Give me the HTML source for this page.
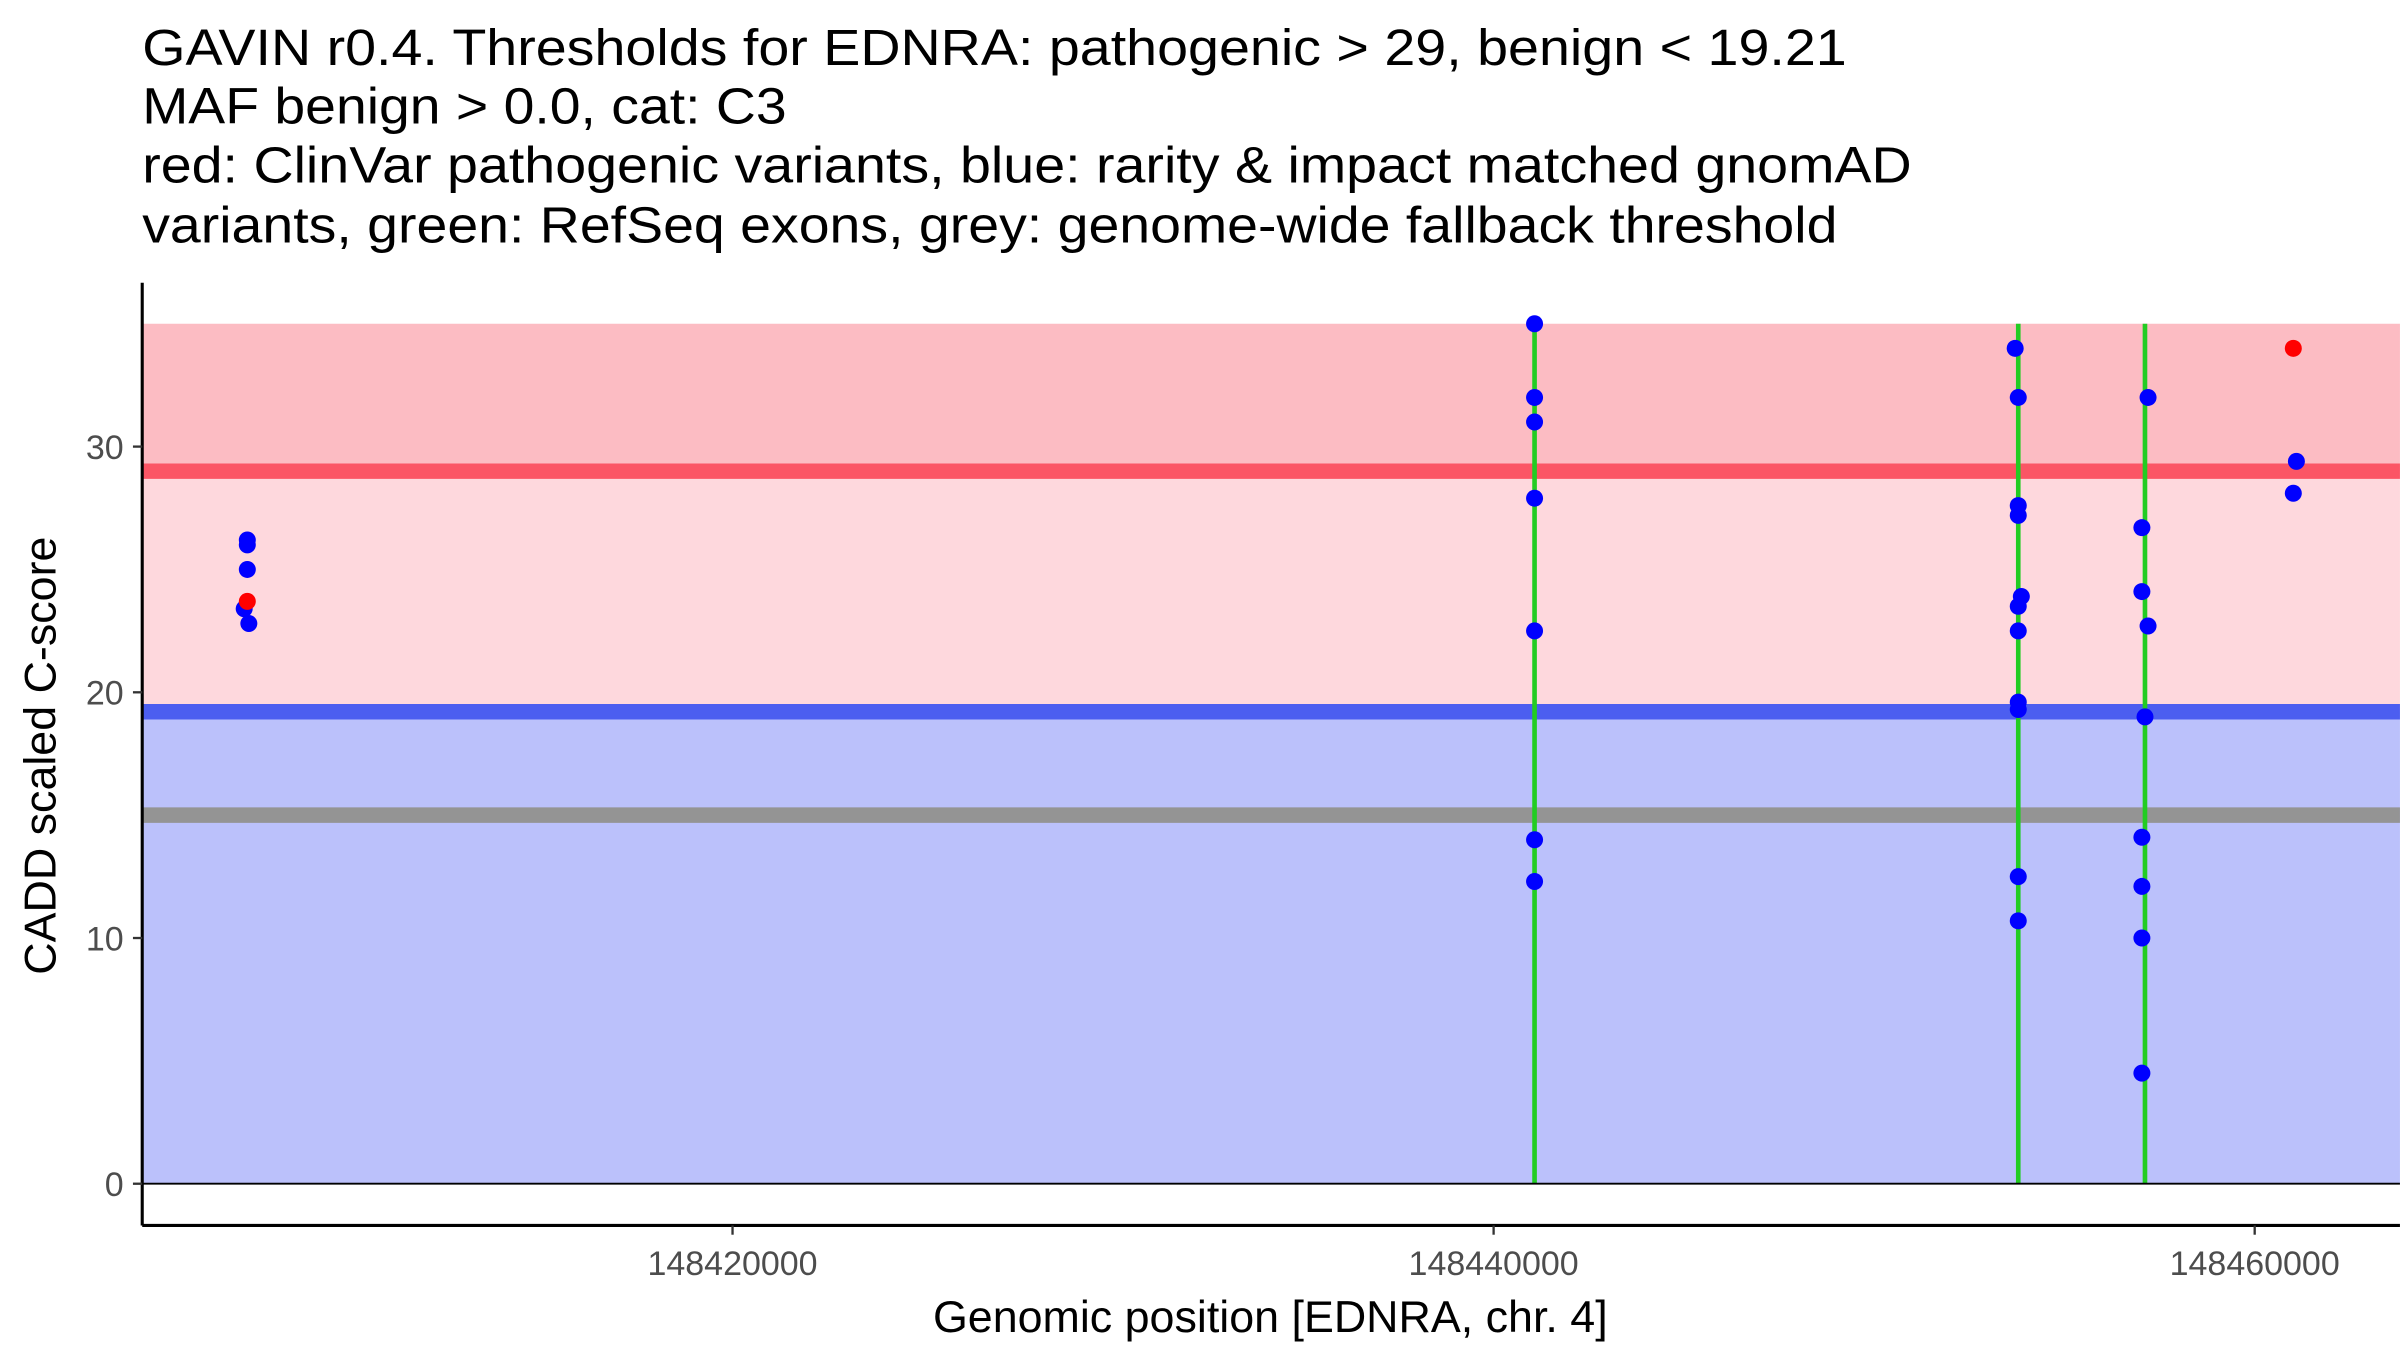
<!DOCTYPE html>
<html><head><meta charset="utf-8"><style>html,body{margin:0;padding:0;background:#fff}svg{display:block}text{font-family:"Liberation Sans",Arial,sans-serif}</style></head>
<body>
<svg id="chart" width="2400" height="1350" viewBox="0 0 1553 873.6" xmlns="http://www.w3.org/2000/svg">
<g font-size="33" fill="#000">
<text x="92" y="42" textLength="1103" lengthAdjust="spacingAndGlyphs">GAVIN r0.4. Thresholds for EDNRA: pathogenic &gt; 29, benign &lt; 19.21</text>
<text x="92" y="80" textLength="417" lengthAdjust="spacingAndGlyphs">MAF benign &gt; 0.0, cat: C3</text>
<text x="92" y="118" textLength="1145" lengthAdjust="spacingAndGlyphs">red: ClinVar pathogenic variants, blue: rarity &amp; impact matched gnomAD</text>
<text x="92" y="157" textLength="1097" lengthAdjust="spacingAndGlyphs">variants, green: RefSeq exons, grey: genome-wide fallback threshold</text>
</g>
<g id="bands"></g><g id="lines"></g><g id="exons"></g><g id="points"></g><g id="axes"></g>
<text transform="translate(36,489) rotate(-90)" text-anchor="middle" font-size="29">CADD scaled C-score</text>
<text x="822" y="862" text-anchor="middle" font-size="29">Genomic position [EDNRA, chr. 4]</text>
</svg>
<script>
const thresholds = [29, 19.21, 15];
const bandTop = [35];
const exonPositions = [148441076, 148453787, 148457117];
const blueX = [148407249,148407249,148407249,148407167,148407289,
 148441076,148441076,148441076,148441076,148441076,148441076,148441076,
 148453706,148453787,148453787,148453787,148453868,148453787,148453787,148453787,148453787,148453787,148453787,
 148457198,148457036,148457036,148457198,148457117,148457036,148457036,148457036,148457036,
 148461096,148461015];
const blueY = [26.2,26.0,25.0,23.4,22.8,
 35,32,31,27.9,22.5,14,12.3,
 34,32,27.6,27.2,23.9,23.5,22.5,19.6,19.3,12.5,10.7,
 32,26.7,24.1,22.7,19,14.1,12.1,10,4.5,
 29.4,28.1];
const redX = [148407249, 148461015];
const redY = [23.7, 34];
const yTicks = [0,10,20,30];
const xTicks = [148420000,148440000,148460000];
const xTickLabels = ["148420000","148440000","148460000"];

const NS="http://www.w3.org/2000/svg";
const L=92,R=1553,T=183,B=793;
const sx=v=>474+(v-148420000)*492.5/20000;
const sy=v=>766-v*477/30;
function mk(g,tag,a){const e=document.createElementNS(NS,tag);for(const k in a)e.setAttribute(k,a[k]);document.getElementById(g).appendChild(e);return e;}
let e;
e=mk('bands','rect',{x:L,y:sy(bandTop[0]),width:R-L,height:sy(thresholds[0])-sy(bandTop[0]),fill:'#fcbcc3'});

e=mk('bands','rect',{x:L,y:sy(thresholds[0]),width:R-L,height:sy(thresholds[1])-sy(thresholds[0]),fill:'#fed8dd'});

e=mk('bands','rect',{x:L,y:sy(thresholds[1]),width:R-L,height:sy(0)-sy(thresholds[1]),fill:'#bbc1fb'});

const lc=['#fb5565','#4c5ef0','#949494'];const ln=['pathogenic-threshold-line','benign-threshold-line','fallback-threshold-line'];
thresholds.forEach((t,i)=>{e=mk('lines','line',{x1:L,x2:R,y1:sy(t),y2:sy(t),stroke:lc[i],'stroke-width':10});

});
exonPositions.forEach(p=>{e=mk('exons','line',{x1:sx(p),x2:sx(p),y1:sy(bandTop[0]),y2:sy(0),stroke:'#22cc22','stroke-width':3});

});
blueX.forEach((x,i)=>{e=mk('points','circle',{cx:sx(x),cy:sy(blueY[i]),r:5.5,fill:'#0000ff'});

});
redX.forEach((x,i)=>{e=mk('points','circle',{cx:sx(x),cy:sy(redY[i]),r:5.5,fill:'#ff0000'});

});
e=mk('axes','line',{x1:L,x2:L,y1:T,y2:B,stroke:'#000','stroke-width':2});

e=mk('axes','line',{x1:L,x2:R,y1:B,y2:B,stroke:'#000','stroke-width':2});

e=mk('axes','line',{x1:L,x2:R,y1:sy(0),y2:sy(0),stroke:'#000','stroke-width':1.2});

yTicks.forEach(t=>{e=mk('axes','line',{x1:L-6,x2:L,y1:sy(t),y2:sy(t),stroke:'#333','stroke-width':1.5});


e=mk('axes','text',{x:L-12,y:sy(t)+8,'text-anchor':'end','font-size':22,fill:'#4d4d4d'});e.textContent=t;

});
xTicks.forEach((t,i)=>{e=mk('axes','line',{x1:sx(t),x2:sx(t),y1:B,y2:B+6,stroke:'#333','stroke-width':1.5});


e=mk('axes','text',{x:sx(t),y:B+32,'text-anchor':'middle','font-size':22,fill:'#4d4d4d'});e.textContent=xTickLabels[i];

});
</script>
</body></html>
